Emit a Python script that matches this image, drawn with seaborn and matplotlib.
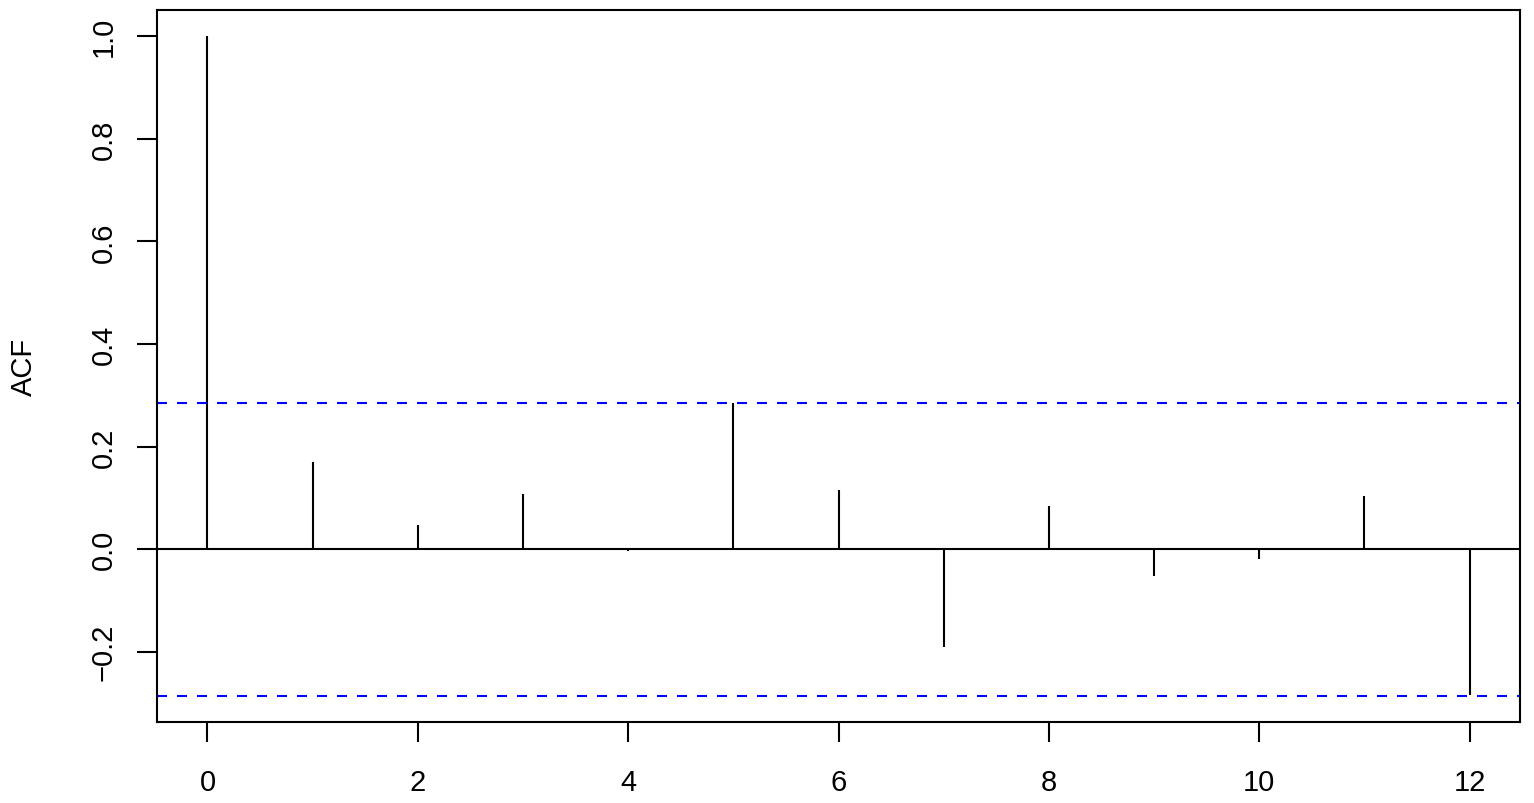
import numpy as np
import pandas as pd
import seaborn as sns
import matplotlib
matplotlib.use("Agg")
import matplotlib.pyplot as plt
from matplotlib.ticker import FuncFormatter

# acf values
lags = list(range(13))
acf_values = [1.0, 0.170, 0.047, 0.108, -0.004, 0.286, 0.115, -0.190, 0.084, -0.053, -0.019, 0.103, -0.285]
conf_bound = 0.286
x_ticks = [0, 2, 4, 6, 8, 10, 12]
y_ticks = [-0.2, 0.0, 0.2, 0.4, 0.6, 0.8, 1.0]

df = pd.DataFrame({'lag': lags, 'acf': acf_values})

lw = 1.5
sns.set_theme(style='ticks')
plt.rcParams['font.family'] = ['Liberation Sans', 'DejaVu Sans']

fig = plt.figure(figsize=(15.34, 8.04), dpi=100)
ax = fig.add_axes([157/1534, 1 - 723/804, (1520-157)/1534, (723-11)/804])

ax.vlines(df['lag'], 0, df['acf'], color='black', linewidth=lw)
ax.axhline(0, color='black', linewidth=lw)
for b in [conf_bound, -conf_bound]:
    ax.axhline(b, color='#0000FF', linewidth=lw, linestyle=(0, (4.8, 4.8)))

ax.set_xlim(-0.48, 12.48)
ax.set_ylim(-0.337, 1.0514)
ax.set_xticks(x_ticks)
ax.set_yticks(y_ticks)
ax.yaxis.set_major_formatter(FuncFormatter(lambda v, p: f'{v:.1f}'.replace('-', '\u2212')))

ax.tick_params(axis='both', which='major', direction='out', length=14.4, width=lw,
               color='black', labelsize=21, labelcolor='black')
ax.tick_params(axis='x', pad=19)
ax.tick_params(axis='y', pad=14)
plt.setp(ax.get_yticklabels(), rotation=90, va='center')

sns.despine(ax=ax, top=False, right=False)
for s in ax.spines.values():
    s.set_color('black')
    s.set_linewidth(lw)

ax.set_ylabel('ACF', fontsize=21, va='center', color='black')
ax.yaxis.set_label_coords((24 - 157) / 1363, 0.5)
ax.set_xlabel('')

fig.savefig('out.png', dpi=100, facecolor='white')
